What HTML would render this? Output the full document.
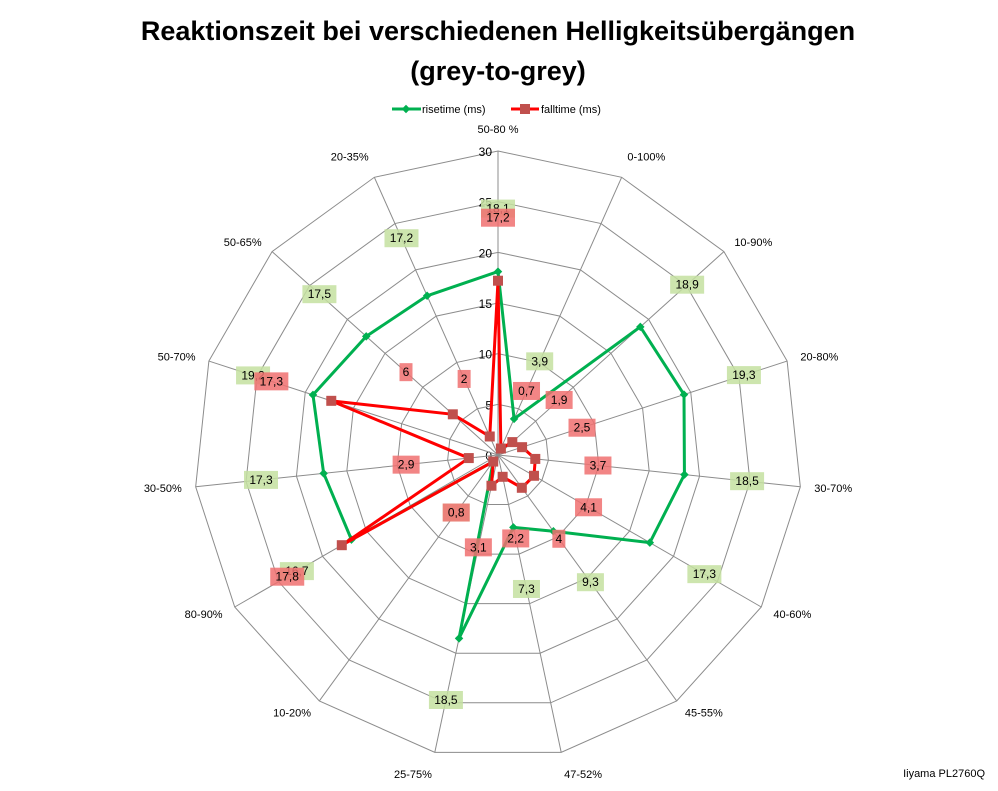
<!DOCTYPE html>
<html><head><meta charset="utf-8"><style>
body{margin:0;background:#fff;font-family:"Liberation Sans",sans-serif}
svg text{font-family:"Liberation Sans",sans-serif}
</style></head><body>
<svg id="chart" width="998" height="786" viewBox="0 0 998 786" xmlns="http://www.w3.org/2000/svg">
<text x="498" y="40" text-anchor="middle" font-size="27" font-weight="bold">Reaktionszeit bei verschiedenen Helligkeitsübergängen</text>
<text x="498" y="80" text-anchor="middle" font-size="27" font-weight="bold">(grey-to-grey)</text>
<g>
<g><line x1="392" y1="109" x2="421" y2="109" stroke="#00b050" stroke-width="3"/><rect x="403" y="106" width="6" height="6" fill="#00b050" transform="rotate(45 406 109)"/><text x="422" y="113" font-size="11">risetime (ms)</text></g>
<g><line x1="511" y1="109" x2="539" y2="109" stroke="#ff0000" stroke-width="3"/><rect x="520" y="104" width="10" height="10" fill="#c0504d"/><text x="541" y="113" font-size="11">falltime (ms)</text></g>
</g>
<g id="grid"></g>
<g id="series"></g>
<text x="985" y="777" text-anchor="end" font-size="11">Iiyama PL2760Q</text>
</svg>
<script>
const categories=["50-80 %","0-100%","10-90%","20-80%","30-70%","40-60%","45-55%","47-52%","25-75%","10-20%","80-90%","30-50%","50-70%","50-65%","20-35%"];
const riseValues=[18.1,3.9,18.9,19.3,18.5,17.3,9.3,7.3,18.5,0.8,16.7,17.3,19.2,17.5,17.2];
const fallValues=[17.2,0.7,1.9,2.5,3.7,4.1,4,2.2,3.1,0.8,17.8,2.9,17.3,6,2];
const tickLabels=[0,5,10,15,20,25,30];
const maxV=30;
const cx=498,cy=455,R=304;
const NS="http://www.w3.org/2000/svg";
const n=categories.length;
function ang(i){return i*2*Math.PI/n;}
function pt(i,v){const a=ang(i),r=v/maxV*R;return [cx+r*Math.sin(a),cy-r*Math.cos(a)];}
function mk(tag,attrs,parent){const e=document.createElementNS(NS,tag);for(const k in attrs)e.setAttribute(k,attrs[k]);parent.appendChild(e);return e;}
const grid=document.getElementById('grid');
tickLabels.forEach(t=>{
  if(t>0){
    const pts=categories.map((c,i)=>pt(i,t).join(',')).join(' ');
    const p=mk('polygon',{points:pts,fill:'none',stroke:'#8c8c8c','stroke-width':1},grid);
    
    
  }
  const tl=mk('text',{x:cx-6,y:cy-t/maxV*R+5,'text-anchor':'end','font-size':12},grid);
  
  
  tl.textContent=t;
});
categories.forEach((c,i)=>{
  const [x,y]=pt(i,maxV);
  const sp=mk('line',{x1:cx,y1:cy,x2:x,y2:y,stroke:'#8c8c8c','stroke-width':1},grid);
  
  
  const a=ang(i),s=Math.sin(a),co=Math.cos(a);
  const lr=R+14;
  let lx=cx+lr*s,ly=cy-lr*co+4;
  let anchor=s>0.1?'start':(s<-0.1?'end':'middle');
  if(co>0.9)ly-=8; if(co<-0.9)ly+=8;
  const t=mk('text',{x:lx,y:ly,'text-anchor':anchor,'font-size':11},grid);
  
  
  t.textContent=c;
});
const ser=document.getElementById('series');
function drawSeries(vals,color,marker,labelColor,name){
  const g=mk('g',{},ser);
  
  
  vals.forEach((v,i)=>{
    const a=ang(i),r=v/maxV*R+63;
    const x=cx+r*Math.sin(a),y=cy-r*Math.cos(a);
    const txt=String(v).replace('.',',');
    const w=txt.length*7+6;
    const b=mk('rect',{x:x-w/2,y:y-9,width:w,height:18,fill:labelColor,'fill-opacity':0.85},g);
    
    
    const t=mk('text',{x:x,y:y+4,'text-anchor':'middle','font-size':12},g);
    
    
    t.textContent=txt;
  });
  const pts=vals.map((v,i)=>pt(i,v).join(',')).join(' ');
  const pl=mk('polygon',{points:pts,fill:'none',stroke:color,'stroke-width':3,'stroke-linejoin':'round'},g);
  
  
  vals.forEach((v,i)=>{
    const [x,y]=pt(i,v);
    let m;
    if(marker==='diamond'){m=mk('rect',{x:x-3,y:y-3,width:6,height:6,fill:color,transform:`rotate(45 ${x} ${y})`},g);}
    else{m=mk('rect',{x:x-5,y:y-5,width:10,height:10,fill:'#c0504d'},g);}
    
    
  });
}
drawSeries(riseValues,'#00b050','diamond','#c4e1a0','risetime');
drawSeries(fallValues,'#ff0000','square','#f07070','falltime');
</script>
</body></html>
